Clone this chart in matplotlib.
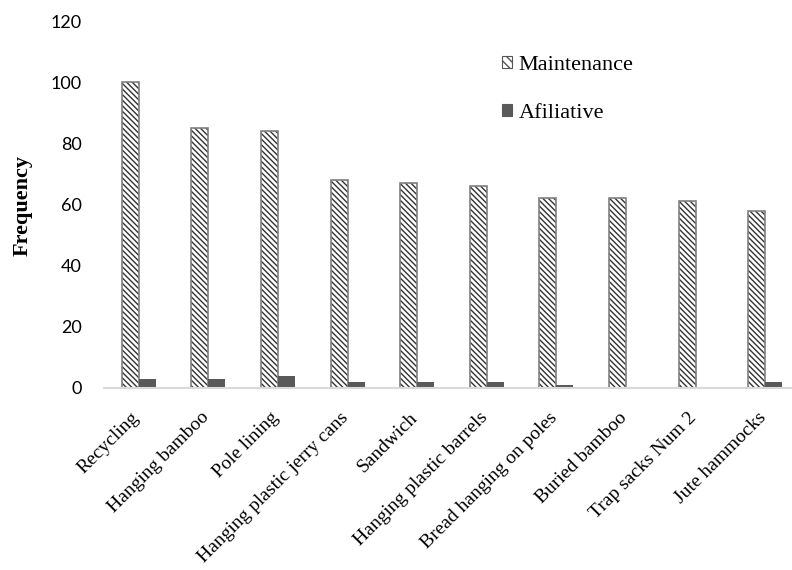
import matplotlib
matplotlib.use('Agg')
import matplotlib.pyplot as plt
import matplotlib.transforms as mtransforms
from matplotlib.patches import Patch
import numpy as np

categories = ["Recycling", "Hanging bamboo", "Pole lining", "Hanging plastic jerry cans",
              "Sandwich", "Hanging plastic barrels", "Bread hanging on poles",
              "Buried bamboo", "Trap sacks Num 2", "Jute hammocks"]
maintenance = [100, 85, 84, 68, 67, 66, 62, 62, 61, 58]
afiliative = [3, 3, 4, 2, 2, 2, 1, 0, 0, 2]
yticks = [0, 20, 40, 60, 80, 100, 120]

plt.rcParams['hatch.linewidth'] = 1.0
serif = 'Liberation Serif'

fig = plt.figure(figsize=(7.92, 5.70), dpi=100)
ax = fig.add_axes([104 / 792, 1 - 388 / 570, 696 / 792, 367 / 570])

x = np.arange(len(categories))
w = 0.245

# hatched bars, then a gray outline on top
ax.bar(x - w / 2, maintenance, w, facecolor='white', edgecolor='#333333',
       hatch='\\\\\\\\\\\\', linewidth=0)
ax.bar(x - w / 2, maintenance, w, facecolor='none', edgecolor='#808080', linewidth=1.2)
ax.bar(x + w / 2, afiliative, w, color='#595959', linewidth=0)

ax.set_xlim(-0.5, len(categories) - 0.5)
ax.set_ylim(0, 120)
ax.set_yticks(yticks)
ax.set_yticklabels([str(t) for t in yticks], fontfamily='Lato', fontsize=13)
ax.tick_params(axis='y', length=0, pad=16)
ax.tick_params(axis='x', length=0, pad=15)
ax.set_xticks(x)
ax.set_xticklabels(categories, rotation=45, ha='right', va='top', rotation_mode='anchor',
                   fontfamily=serif, fontsize=14)
shift = mtransforms.ScaledTranslation(-8 / 100, 0, fig.dpi_scale_trans)
for lab in ax.get_xticklabels():
    lab.set_transform(lab.get_transform() + shift)

for s in ['top', 'right', 'left']:
    ax.spines[s].set_visible(False)
ax.spines['bottom'].set_color('#d9d9d9')
ax.spines['bottom'].set_linewidth(1.5)

fig.text(23 / 792, 1 - 205 / 570, 'Frequency', rotation=90, ha='center', va='center',
         fontfamily=serif, fontweight='bold', fontsize=16)

handles = [Patch(facecolor='white', edgecolor='#555555', hatch='\\\\\\\\', linewidth=0.8),
           Patch(facecolor='#595959', edgecolor='#595959', linewidth=0.8)]
leg = fig.legend(handles, ['Maintenance', 'Afiliative'], loc='upper left',
                 bbox_to_anchor=(502 / 792, 1 - 56 / 570), frameon=False,
                 handlelength=0.45, handleheight=0.45, handletextpad=0.3, labelspacing=1.3,
                 borderaxespad=0, borderpad=0, fontsize=16)
for t in leg.get_texts():
    t.set_fontfamily(serif)

fig.savefig('out.png', dpi=100)
